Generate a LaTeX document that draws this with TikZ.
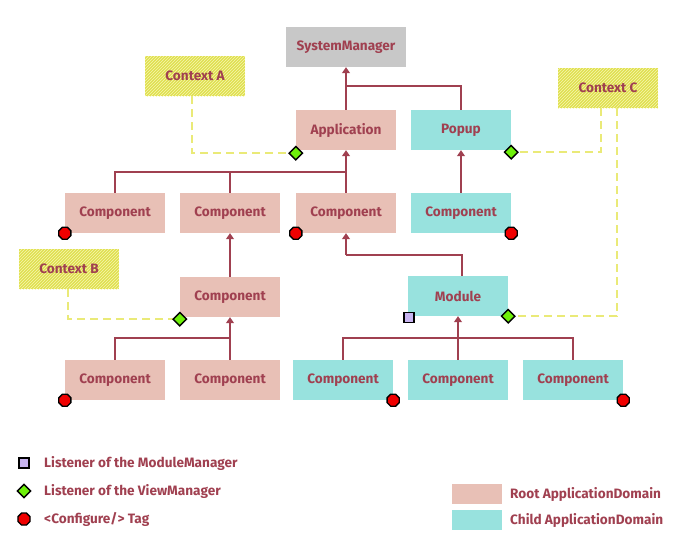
\documentclass[tikz,border=0pt]{standalone}
\usepackage{fontspec}
\setmainfont{Fira Sans}
\usetikzlibrary{arrows.meta,patterns,shapes.geometric}
\definecolor{txt}{RGB}{160,64,80}
\definecolor{root}{RGB}{232,192,182}
\definecolor{child}{RGB}{152,226,222}
\definecolor{sys}{RGB}{200,200,200}
\definecolor{ctx}{RGB}{224,224,80}
\definecolor{ctxl}{RGB}{246,246,175}
\definecolor{dsh}{RGB}{234,234,120}
\definecolor{vmg}{RGB}{110,240,10}
\definecolor{lav}{RGB}{200,180,240}
\definecolor{cfgr}{RGB}{240,0,0}
\begin{document}
\begin{tikzpicture}[x=1pt,y=-1pt,
 lbl/.style={text=txt,font=\bfseries\fontsize{13.6}{15}\selectfont},
 box/.style={lbl,minimum width=100pt,minimum height=40pt,inner sep=0pt},
 rootbox/.style={box,fill=root},
 childbox/.style={box,fill=child},
 ctxbox/.style={box,fill=ctx,postaction={pattern=north east lines,pattern color=ctxl}},
 link/.style={draw=txt,line width=1.2pt},
 arr/.style={link,-{Triangle[width=8pt,length=6pt]}},
 dlink/.style={draw=dsh,line width=1.8pt,dash pattern=on 8pt off 5pt},
 vm/.style={diamond,draw=black,line width=1.4pt,fill=vmg,minimum size=14pt,inner sep=0pt},
 cfg/.style={regular polygon,regular polygon sides=8,draw=black,line width=1.4pt,fill=cfgr,minimum size=13pt,inner sep=0pt},
 mm/.style={rectangle,draw=black,line width=1.4pt,fill=lav,minimum size=10pt,inner sep=0pt},
 legtext/.style={lbl,anchor=west,inner sep=0pt}
]
\useasboundingbox (0,0) rectangle (680,550);

% boxes
\node[box,fill=sys,minimum width=120pt] (sys) at (346,47) {SystemManager};
\node[ctxbox] (ctxA) at (195,76) {Context A};
\node[rootbox] (app) at (346,130) {Application};
\node[childbox] (popup) at (461,130) {Popup};
\node[ctxbox] (ctxC) at (608,88) {Context C};

\node[rootbox] (c21) at (115,213) {Component};
\node[rootbox] (c22) at (230,213) {Component};
\node[rootbox] (c23) at (346,213) {Component};
\node[childbox] (c24) at (461,213) {Component};

\node[ctxbox] (ctxB) at (69,269) {Context B};
\node[rootbox] (mid) at (230,297) {Component};
\node[childbox] (mod) at (458,296) {Module};

\node[rootbox] (c31) at (115,380) {Component};
\node[rootbox] (c32) at (230,380) {Component};
\node[childbox] (c33) at (343,380) {Component};
\node[childbox] (c34) at (458,380) {Component};
\node[childbox] (c35) at (573,380) {Component};

% junctions
\coordinate (j1) at (346,86);
\coordinate (j2) at (346,172);
\coordinate (j3) at (346,255);
\coordinate (j4) at (458,338);
\coordinate (j5) at (230,338);

% tree connectors
\draw[arr] (app.north) -- (sys.south);
\draw[link] (popup.north) |- (j1);
\draw[link] (c21.north) |- (j2);
\draw[link] (c22.north) |- (j2);
\draw[arr] (c23.north) -- (app.south);
\draw[arr] (c24.north) -- (popup.south);
\draw[arr] (mid.north) -- (c22.south);
\draw[link] (c31.north) |- (j5);
\draw[arr] (c32.north) -- (mid.south);
\draw[link] ([xshift=4pt]mod.north) |- (j3);
\draw[arr] (j3) -- (c23.south);
\draw[link] (c33.north) |- (j4);
\draw[link] (c35.north) |- (j4);
\draw[arr] (c34.north) -- (mod.south);

% marker positions
\coordinate (pA) at ([yshift=-3pt]app.south west);
\coordinate (pP) at ([yshift=-2pt]popup.south east);
\coordinate (pB) at ([yshift=-2pt]mid.south west);
\coordinate (pM) at (mod.south east);

% dashed context links
\draw[dlink] ([xshift=-3pt]ctxA.south) |- (pA);
\draw[dlink] ([xshift=-1pt]ctxB.south) |- (pB);
\draw[dlink] ([xshift=-7pt]ctxC.south) |- (pP);
\draw[dlink] ([xshift=9pt]ctxC.south) |- (pM);

\node[vm] (vmA) at (pA) {};
\node[vm] (vmP) at (pP) {};
\node[vm] (vmB) at (pB) {};
\node[vm] (vmM) at (pM) {};

\node[cfg] (r1) at (c21.south west) {};
\node[cfg] (r2) at (c23.south west) {};
\node[cfg] (r3) at (c24.south east) {};
\node[cfg] (r4) at (c31.south west) {};
\node[cfg] (r5) at (c33.south east) {};
\node[cfg] (r6) at (c35.south east) {};
\node[mm] (m1) at ([xshift=1pt,yshift=-1pt]mod.south west) {};

% legend
\node[mm] (lm) at (24,463) {};
\node[legtext] (lmt) at (44,463) {Listener of the ModuleManager};
\node[vm] (lv) at (24,491) {};
\node[legtext] (lvt) at (44,491) {Listener of the ViewManager};
\node[cfg] (lc) at (24,519) {};
\node[legtext] (lct) at (44,519) {<Configure/> Tag};

\node[fill=root,minimum width=50pt,minimum height=20pt,inner sep=0pt] (sr) at (477,494) {};
\node[legtext] (srt) at (510,494) {Root ApplicationDomain};
\node[fill=child,minimum width=50pt,minimum height=20pt,inner sep=0pt] (sc) at (477,520) {};
\node[legtext] (sct) at (510,520) {Child ApplicationDomain};
\end{tikzpicture}
\end{document}
